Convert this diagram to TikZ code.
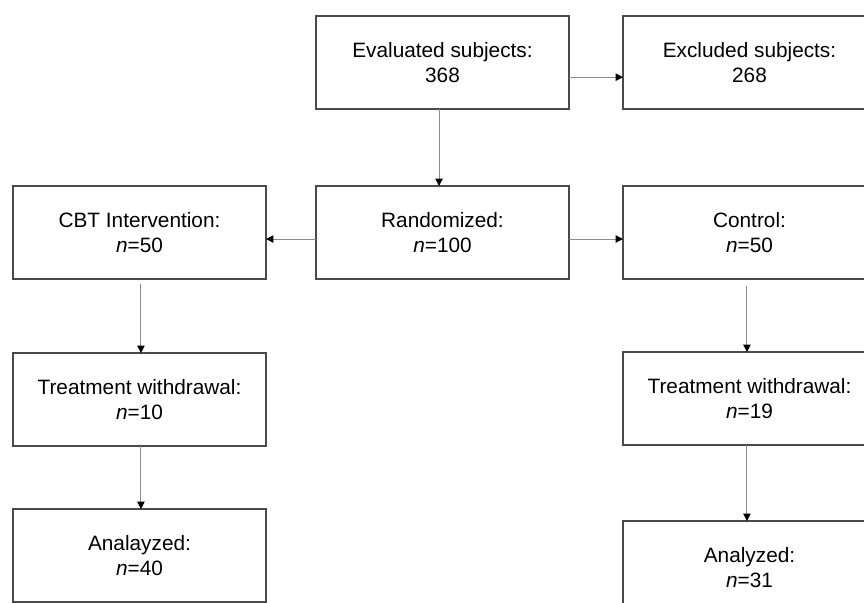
\documentclass[tikz,border=0pt]{standalone}
\usepackage{fontspec}
\setmainfont{Liberation Sans}
\usetikzlibrary{arrows.meta}

\definecolor{boxline}{HTML}{4A4A4A}
\definecolor{linkline}{HTML}{8C8C8C}

\tikzset{
  flowbox/.style={draw=boxline, line width=0.8pt, minimum width=189.75pt,
    minimum height=69.75pt, inner sep=0pt, outer sep=0pt, align=center,
    font=\fontsize{15.6}{18.75}\selectfont},
  link/.style={draw=linkline, line width=0.75pt,
    -{Triangle[length=5.5pt, width=5.5pt, color=black]}}
}

\begin{document}
\begin{tikzpicture}
  [x=0.75pt, y=-0.75pt]
  \useasboundingbox (0,0) rectangle (864,603);
  \clip (0,0) rectangle (864,603);
  \node[flowbox] (eval) at (442.5, 62.5) {Evaluated subjects:\\368};
  \node[flowbox] (excl) at (749.5, 62.5) {Excluded subjects:\\268};
  \node[flowbox] (rand) at (442.5, 232.5) {Randomized:\\\textit{n}=100};
  \node[flowbox] (cbt) at (139.5, 232.5) {CBT Intervention:\\\textit{n}=50};
  \node[flowbox] (ctrl) at (749.5, 232.5) {Control:\\\textit{n}=50};
  \node[flowbox] (wd1) at (139.5, 399.5) {Treatment withdrawal:\\\textit{n}=10};
  \node[flowbox] (wd2) at (749.5, 398.5) {Treatment withdrawal:\\\textit{n}=19};
  \node[flowbox] (an1) at (139.5, 555.5) {Analayzed:\\\textit{n}=40};
  \node[flowbox] (an2) at (749.5, 567.5) {Analyzed:\\\textit{n}=31};

  \draw[link] ([yshift=-11pt]eval.east) -- ([yshift=-11pt]excl.west);
  \draw[link] ([xshift=-2.6pt]eval.south) -- ([xshift=-2.6pt]rand.north);
  \foreach \from/\to in {rand.west/cbt.east,rand.east/ctrl.west}
  \draw[link] ([yshift=-4.9pt]\from) -- ([yshift=-4.9pt]\to);
  \draw[link, shorten <=3.8pt] ([xshift=1.1pt]cbt.south) -- ([xshift=1.1pt]wd1.north);
  \draw[link] ([xshift=1.1pt]wd1.south) -- ([xshift=1.1pt]an1.north);
  \draw[link, shorten <=5.2pt] ([xshift=-1.9pt]ctrl.south) -- ([xshift=-1.9pt]wd2.north);
  \draw[link] ([xshift=-1.9pt]wd2.south) -- ([xshift=-1.9pt]an2.north);
\end{tikzpicture}
\end{document}
